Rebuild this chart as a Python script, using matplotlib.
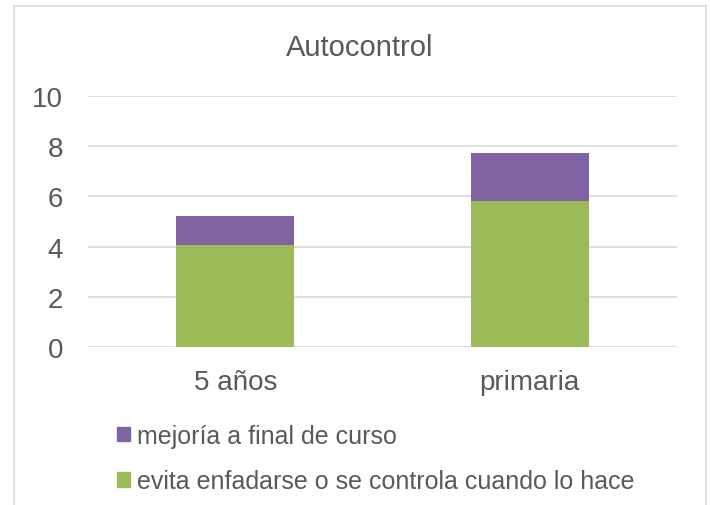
import matplotlib
matplotlib.use("Agg")
import matplotlib.pyplot as plt
from matplotlib.patches import Rectangle, Patch

categories = ["5 años", "primaria"]
evita = [4.05, 5.8]
mejoria = [1.15, 1.92]
series_labels = ["mejoría a final de curso", "evita enfadarse o se controla cuando lo hace"]
yticks = [0, 2, 4, 6, 8, 10]

plt.rcParams['font.family'] = ['Liberation Sans', 'DejaVu Sans']
TXT = '#595959'
GREEN = '#9BBB59'
PURPLE = '#8064A2'

W, H = 710, 506
fig = plt.figure(figsize=(W/100, H/100), dpi=100)
ax = fig.add_axes([88/W, 1-348/H, (677-88)/W, (348-97)/H])

x = list(range(len(categories)))
ax.bar(x, evita, width=0.4, color=GREEN, zorder=3)
ax.bar(x, mejoria, bottom=evita, width=0.4, color=PURPLE, zorder=3)

ax.set_xlim(-0.5, 1.5)
ax.set_ylim(0, 10)
ax.set_yticks(yticks)
ax.set_yticklabels([str(t) for t in yticks])
ax.set_xticks(x)
ax.set_xticklabels(categories)
ax.tick_params(axis='both', length=0, labelsize=20, labelcolor=TXT)
ax.tick_params(axis='y', pad=18)
ax.tick_params(axis='x', pad=16)
ax.grid(axis='y', color='#D9D9D9', linewidth=1.2, zorder=0)
for s in ax.spines.values():
    s.set_visible(False)

fig.text(360/W, 1-56/H, "Autocontrol", ha='center', va='baseline', fontsize=21, color=TXT)

handles = [Patch(color=PURPLE), Patch(color=GREEN)]
leg = fig.legend(handles, series_labels, loc='upper left',
                 bbox_to_anchor=(117/W, 1-425/H), frameon=False,
                 fontsize=18, labelcolor=TXT, handlelength=0.5, handleheight=0.5,
                 handletextpad=0.3, labelspacing=0.85, borderpad=0, borderaxespad=0)

fig.patches.append(Rectangle((14/W, -0.05), (706-14)/W, 1.05-7/H, transform=fig.transFigure,
                             fill=False, edgecolor='#D9D9D9', linewidth=1.2))

fig.savefig("out.png", dpi=100)
